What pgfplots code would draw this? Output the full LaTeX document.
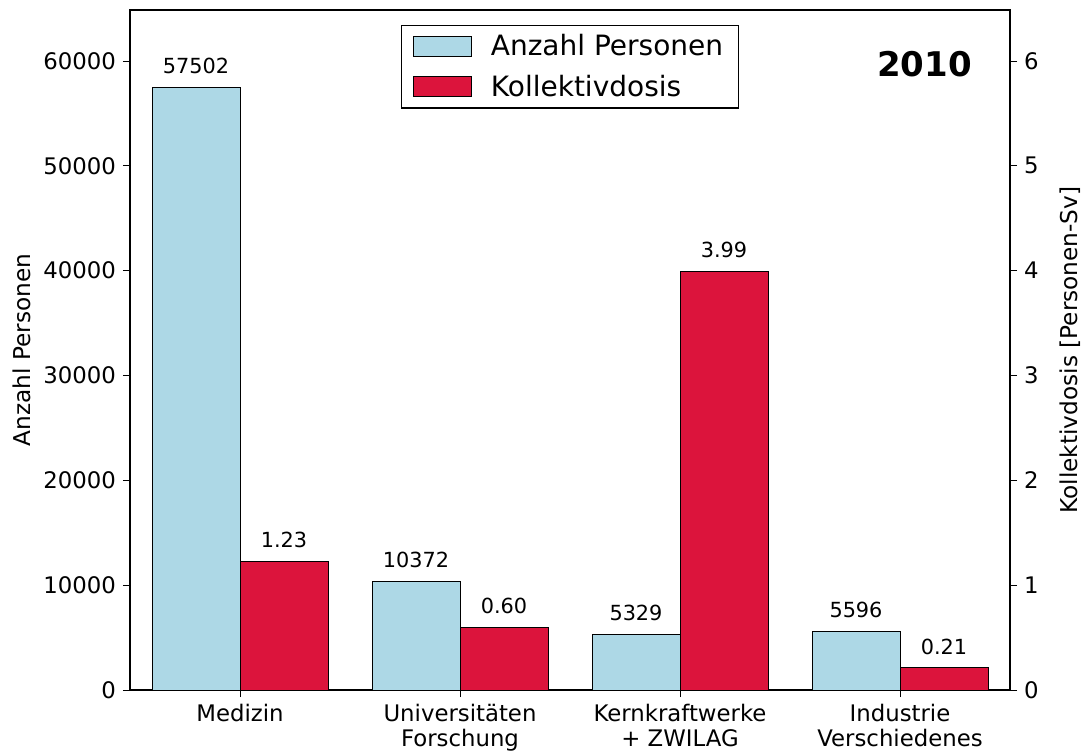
\documentclass[border=0pt]{standalone}
\usepackage{fontspec}
\setmainfont{DejaVu Sans}
\usepackage{pgfplots}
\pgfplotsset{compat=1.18}
\definecolor{lblue}{HTML}{ADD8E6}
\definecolor{crimson}{HTML}{DC143C}

\pgfplotsset{
  common/.style={
    width=440pt, height=340pt, scale only axis,
    at={(0,0)}, anchor=south west,
    xmin=-0.5, xmax=3.5, ymin=0,
    ybar, bar width=0.4,
    tick align=outside,
    major tick length=3.5pt,
    tick style={black, line width=0.5pt},
    axis line style={line width=0.6pt},
    scaled ticks=false,
    /pgf/number format/assume math mode=true,
    /pgf/number format/1000 sep={},
    ticklabel style={font=\fontsize{11.4}{12.5}\selectfont},
    label style={font=\fontsize{11.6}{13}\selectfont},
    every axis plot/.append style={draw=black, line width=0.5pt},
    nodes near coords style={font=\fontsize{10.4}{12}\selectfont, inner sep=0pt, yshift=6.5pt, anchor=south},
  }
}

\begin{document}
\begin{tikzpicture}
\useasboundingbox (-65pt,-32.5pt) rectangle (477.5pt,345pt);

% left axis: number of persons
\begin{axis}[common,
    ymax=64867,
    ytick={0,10000,20000,30000,40000,50000,60000},
    ytick pos=left, xtick pos=bottom,
    xtick={0,1,2,3},
    xticklabels={Medizin, {Universitäten\\Forschung}, {Kernkraftwerke\\+ ZWILAG}, {Industrie\\Verschiedenes}},
    xticklabel style={align=center},
    ylabel={Anzahl Personen},
    ylabel style={at={(axis description cs:-0.1227,0.5)}, anchor=center},
    nodes near coords={\pgfmathprintnumber[fixed,precision=0]{\pgfplotspointmeta}},
  ]
  \addplot[fill=lblue, bar shift=-0.2] coordinates {(0,57502) (1,10372) (2,5329) (3,5596)};
\end{axis}

% right axis: collective dose
\begin{axis}[common,
    ymax=6.4867,
    ytick={0,1,2,3,4,5,6},
    axis y line*=right, axis x line=none,
    ylabel={Kollektivdosis [Personen-Sv]},
    ylabel style={at={(axis description cs:1.0682,0.5)}, anchor=center},
    nodes near coords={\pgfmathprintnumber[fixed,fixed zerofill,precision=2]{\pgfplotspointmeta}},
    legend image code/.code={\draw[#1, line width=0.5pt] (0pt,-5pt) rectangle (29pt,5pt);},
    legend style={at={(0.5,0.978)}, anchor=north, draw=black, line width=0.6pt,
      font=\fontsize{14}{16}\selectfont, legend cell align=left, row sep=4pt,
      inner xsep=5.5pt, inner ysep=2.5pt,
      /tikz/every odd column/.append style={column sep=7.5pt}},
  ]
  \addlegendimage{fill=lblue, draw=black}
  \addlegendentry{Anzahl Personen}
  \addplot[fill=crimson, bar shift=0.2] coordinates {(0,1.23) (1,0.60) (2,3.99) (3,0.21)};
  \addlegendentry{Kollektivdosis}
  \node[anchor=east, inner sep=0pt, font=\fontsize{17}{20}\selectfont\bfseries] at (rel axis cs:0.957,0.92) {2010};
\end{axis}
\end{tikzpicture}
\end{document}
